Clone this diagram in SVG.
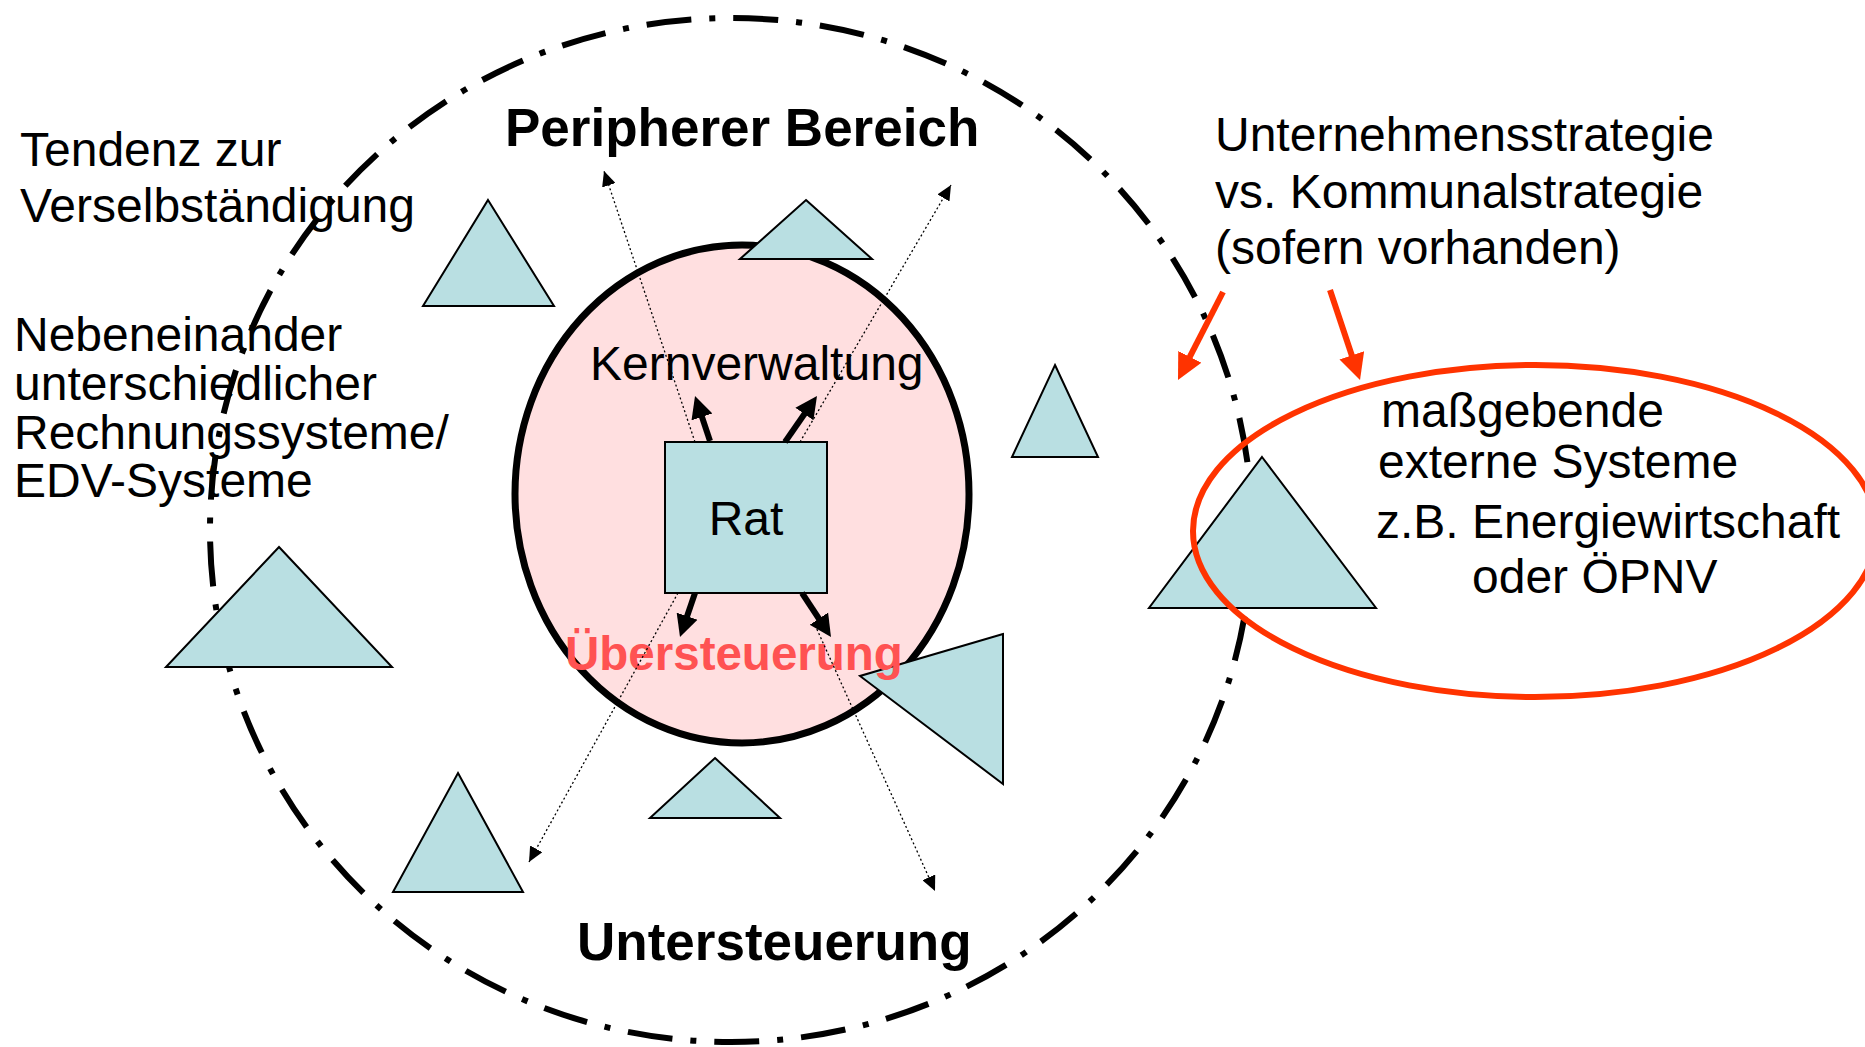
<svg xmlns="http://www.w3.org/2000/svg" width="1865" height="1047" viewBox="0 0 1865 1047">
<style>
  .tri { fill: #B9DFE2; stroke: #000; stroke-width: 2; stroke-linejoin: miter; }
  .t { font-family: "Liberation Sans", Arial, sans-serif; font-size: 48px; fill: #000; }
  .tb { font-family: "Liberation Sans", Arial, sans-serif; font-size: 53px; font-weight: bold; fill: #000; }
  .thick { stroke: #000; stroke-width: 6; fill: none; marker-end: url(#headBlack); }
  .dot { stroke: #000; stroke-width: 1.3; stroke-dasharray: 2 2.5; fill: none; marker-end: url(#headDot); }
  .red { stroke: #FF3300; stroke-width: 6; fill: none; marker-end: url(#headRed); }
</style>
<defs>
  <marker id="headBlack" markerUnits="userSpaceOnUse" markerWidth="24" markerHeight="24" viewBox="0 0 24 22" refX="4" refY="11" orient="auto">
    <path d="M0,0 L22,11 L0,22 z" fill="#000"/>
  </marker>
  <marker id="headDot" markerUnits="userSpaceOnUse" markerWidth="16" markerHeight="14" viewBox="0 0 16 14" refX="15" refY="7" orient="auto">
    <path d="M0,0 L15,7 L0,14 z" fill="#000"/>
  </marker>
  <marker id="headRed" markerUnits="userSpaceOnUse" markerWidth="28" markerHeight="26" viewBox="0 0 28 26" refX="6" refY="13" orient="auto">
    <path d="M0,0 L26,13 L0,26 z" fill="#FF3300"/>
  </marker>
</defs>
<rect width="1865" height="1047" fill="#fff"/>

<g id="kernverwaltung-region">
  <ellipse cx="742" cy="494" rx="227" ry="249" fill="#FFDFE0" stroke="#000" stroke-width="7"/>
</g>

<g id="peripherer-bereich-region">
  <ellipse cx="731" cy="530" rx="521" ry="512" fill="none" stroke="#000" stroke-width="6" stroke-dasharray="45 18 6 18"/>
</g>

<g id="triangles">
  <polygon id="tri1" class="tri" points="488,200 554,306 423,306"/>
  <polygon id="tri2" class="tri" points="806,200 872,259 740,259"/>
  <polygon id="tri3" class="tri" points="1055,365 1098,457 1012,457"/>
  <polygon id="tri5" class="tri" points="279,547 392,667 166,667"/>
  <polygon id="tri6" class="tri" points="458,773 523,892 393,892"/>
  <polygon id="tri7" class="tri" points="715,758 780,818 650,818"/>
  <polygon id="tri8" class="tri" points="1003,634 860,676 1003,784"/>
  <polygon id="tri4" class="tri" points="1262,457 1376,608 1149,608"/>
</g>

<g id="rat">
  <rect x="665" y="442" width="162" height="151" fill="#B9DFE2" stroke="#000" stroke-width="2"/>
  <text class="t" x="746" y="535" text-anchor="middle">Rat</text>
</g>

<g id="externe-systeme">
  <ellipse cx="1535" cy="531" rx="342" ry="166" fill="none" stroke="#FF3300" stroke-width="6"/>
  <text class="t" x="1381" y="427">maßgebende</text>
  <text class="t" x="1378" y="478">externe Systeme</text>
  <text class="t" x="1376" y="538">z.B. Energiewirtschaft</text>
  <text class="t" x="1472" y="593">oder ÖPNV</text>
</g>

<g id="labels">
  <text class="tb" x="505" y="146">Peripherer Bereich</text>
  <text class="tb" x="577" y="960">Untersteuerung</text>
  <text class="t" x="590" y="380">Kernverwaltung</text>
  <text class="tb" x="565" y="670" style="font-size:47.5px;fill:#FF5252">Übersteuerung</text>
  <text class="t" x="20" y="166">Tendenz zur</text>
  <text class="t" x="20" y="222">Verselbständigung</text>
  <text class="t" x="14" y="351">Nebeneinander</text>
  <text class="t" x="14" y="400">unterschiedlicher</text>
  <text class="t" x="14" y="449">Rechnungssysteme/</text>
  <text class="t" x="14" y="497">EDV-Systeme</text>
  <text class="t" x="1215" y="151">Unternehmensstrategie</text>
  <text class="t" x="1215" y="208">vs. Kommunalstrategie</text>
  <text class="t" x="1215" y="264">(sofern vorhanden)</text>
</g>

<g id="connectors">
  <line class="thick" x1="710" y1="441" x2="700.7" y2="413.1"/>
  <line class="thick" x1="785" y1="442" x2="806.7" y2="410.8"/>
  <line class="thick" x1="695" y1="593" x2="685.8" y2="620"/>
  <line class="thick" x1="802" y1="593" x2="821.1" y2="622"/>
  <line class="dot" x1="695" y1="442" x2="604" y2="171"/>
  <line class="dot" x1="800" y1="442" x2="951" y2="185"/>
  <line class="dot" x1="678" y1="593" x2="529" y2="862"/>
  <line class="dot" x1="815" y1="625" x2="935" y2="891"/>
  <line class="red" x1="1223" y1="292" x2="1187.1" y2="362.2"/>
  <line class="red" x1="1330" y1="290" x2="1353.7" y2="361"/>
</g>
</svg>
